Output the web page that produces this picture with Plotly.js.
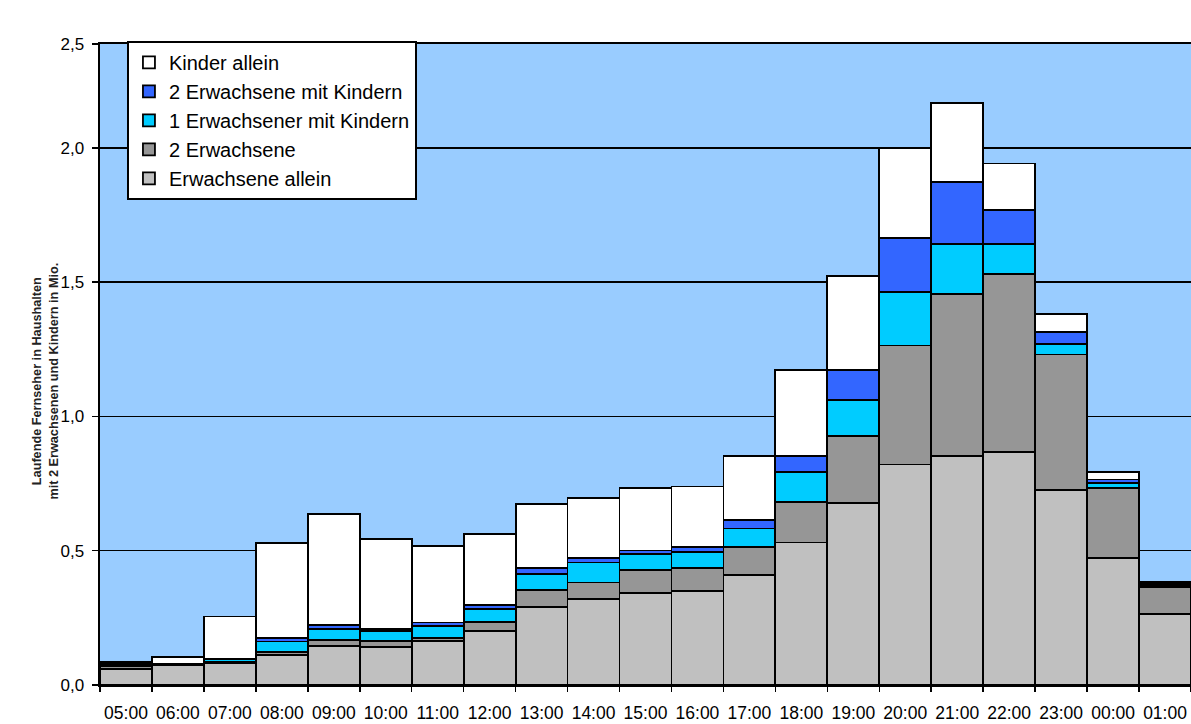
<!DOCTYPE html>
<html>
<head>
<meta charset="utf-8">
<script src="https://cdn.plot.ly/plotly-3.0.1.min.js"></script>
<style>
html,body{margin:0;padding:0;background:#fff;overflow:hidden;}
#chart{width:1191px;height:724px;}
</style>
</head>
<body>
<div id="chart"></div>
<script>
const hours = ['05:00','06:00','07:00','08:00','09:00','10:00','11:00','12:00','13:00','14:00','15:00','16:00','17:00','18:00','19:00','20:00','21:00','22:00','23:00','00:00','01:00'];
const erwachseneAllein = [0.060,0.073,0.080,0.112,0.145,0.143,0.164,0.202,0.290,0.321,0.342,0.351,0.410,0.531,0.678,0.821,0.852,0.868,0.725,0.473,0.264];
const zweiErwachsene   = [0.012,0.002,0.005,0.010,0.022,0.020,0.012,0.032,0.064,0.061,0.085,0.084,0.105,0.150,0.248,0.443,0.605,0.663,0.506,0.261,0.100];
const einErwMitKindern = [0.004,0.001,0.010,0.040,0.043,0.038,0.045,0.050,0.059,0.074,0.062,0.059,0.068,0.112,0.134,0.199,0.186,0.112,0.040,0.019,0.006];
const zweiErwMitKindern= [0.004,0.001,0.003,0.012,0.012,0.008,0.012,0.015,0.022,0.017,0.012,0.020,0.030,0.059,0.112,0.203,0.231,0.126,0.044,0.012,0.006];
const kinderAllein     = [0.005,0.028,0.157,0.356,0.414,0.336,0.284,0.262,0.238,0.222,0.232,0.225,0.239,0.320,0.351,0.334,0.294,0.173,0.068,0.027,0.007];

const seriesNames = ['Erwachsene allein','2 Erwachsene','1 Erwachsener mit Kindern','2 Erwachsene mit Kindern','Kinder allein'];
const seriesValues = [erwachseneAllein, zweiErwachsene, einErwMitKindern, zweiErwMitKindern, kinderAllein];
const seriesColors = ['#C0C0C0','#969696','#00CCFF','#3366FF','#FFFFFF'];

const yTickVals = [0,0.5,1.0,1.5,2.0,2.387];
const yTickText = ['0,0','0,5','1,0','1,5','2,0','2,5'];

const traces = seriesNames.map((n,i)=>({
  type:'bar', name:n, x:hours, y:seriesValues[i],
  legendgroup:'g'+i,
  marker:{color:seriesColors[i], line:{color:'#000', width:1.8}},
  hoverinfo:'x+y+name'
}));

const font = "'Liberation Sans', Arial, sans-serif";
const layout = {
  width:1191, height:724,
  margin:{l:100, r:0, t:44, b:39},
  paper_bgcolor:'#fff', plot_bgcolor:'#99CCFF',
  barmode:'stack', bargap:0,
  separators:',.',
  font:{family:font, color:'#000'},
  showlegend:true,
  legend:{x:0.0247, y:1.005, xanchor:'left', yanchor:'top',
    bgcolor:'#fff', bordercolor:'#000', borderwidth:2,
    traceorder:'reversed', tracegroupgap:4.5,
    font:{family:font, size:20, color:'#000'}},
  xaxis:{type:'category', tickson:'boundaries', ticks:'outside', ticklen:5, tickwidth:1.5, tickcolor:'#000',
    showline:true, linecolor:'#000', linewidth:2, mirror:true, showgrid:false,
    tickangle:0, automargin:false,
    tickfont:{family:font, size:17.5, color:'#000'}, ticklabelstandoff:11,
    range:[-0.5,20.5]},
  yaxis:{range:[0,2.387], tickvals:yTickVals, ticktext:yTickText,
    ticks:'outside', ticklen:6, tickwidth:1.5, tickcolor:'#000',
    showline:true, linecolor:'#000', linewidth:2.5,
    showgrid:true, gridcolor:'#000', gridwidth:1.5, zeroline:false,
    tickfont:{family:font, size:17, color:'#000'}, ticklabelstandoff:4},
  annotations:[{xref:'paper', yref:'paper', x:-0.05, y:0.474, xanchor:'center', yanchor:'middle',
    textangle:-90, showarrow:false,
    text:'<b>Laufende Fernseher in Haushalten<br>mit 2 Erwachsenen und Kindern in Mio.</b>',
    font:{family:font, size:12.7, color:'#222'}}]
};
Plotly.newPlot('chart', traces, layout, {displayModeBar:false, staticPlot:true});
</script>
</body>
</html>
